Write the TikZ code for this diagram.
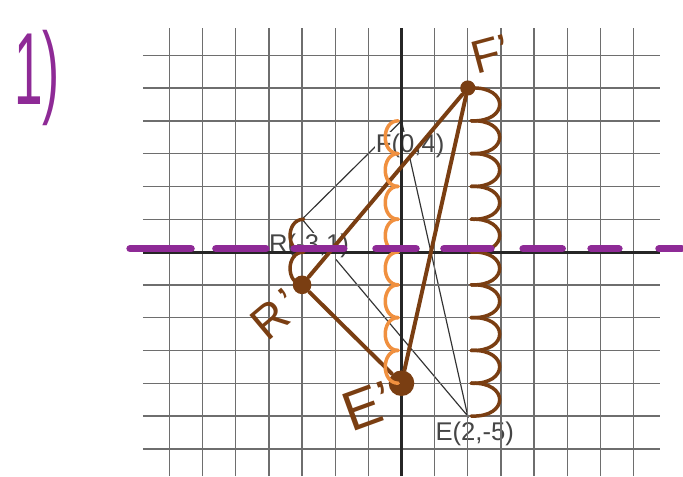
\documentclass[tikz,border=0pt]{standalone}
\usepackage{fontspec}
\newfontfamily\printfont{Liberation Sans}
\usepackage{xcolor}
\definecolor{gridgray}{HTML}{6E6E6E}
\definecolor{printgray}{HTML}{454545}
\definecolor{inkbrown}{HTML}{7A3E12}
\definecolor{inkorange}{HTML}{F0903F}
\definecolor{inkpurple}{HTML}{8E2A96}
\usepackage{tikz}
\usetikzlibrary{positioning}

\begin{document}
\begin{tikzpicture}[
  x=0.5cm, y=0.4949cm,
  gridline/.style={gridgray, line width=0.6pt},
  axisline/.style={black!85, line width=1.3pt},
  thinside/.style={black!80, line width=0.5pt},
  printlabel/.style={
    font=\printfont\fontsize{11}{13}\selectfont, text=printgray,
    fill=white, inner sep=0.5pt
  },
  handlabel/.style={
    text=inkbrown, font=\printfont\fontsize{20}{22}\selectfont, inner sep=0pt
  },
  vertex/.style={circle, fill=inkbrown, inner sep=0pt},
  side/.style={inkbrown, line width=1.7pt, line cap=round},
  hop/.style={line width=1.5pt, line cap=round},
  mirror/.style={inkpurple, line width=3.2pt, line cap=round}
]
\useasboundingbox (-12.115,-6.83) rectangle (8.494,7.683);

% Original triangle FRE
\coordinate (F) at (0,4);
\coordinate (R) at (-3,1);
\coordinate (E) at (2,-5);
\draw[thinside] (F) -- (R) -- (E) -- cycle;

\node[printlabel, below=4.8pt of F, xshift=3.7pt] (Flab) {F(0,4)};
\node[printlabel, below=5.6pt of R, xshift=3pt] (Rlab) {R(-3,1)};
\node[printlabel, below=2pt of E, xshift=3pt] (Elab) {E(2,-5)};

% Graph paper
\foreach \i in {-7,...,7}
  \draw[gridline] (\i,-6.83) -- (\i,6.83);
\foreach \j in {-6,...,6}
  \draw[gridline] (-7.8,\j) -- (7.8,\j);
\draw[axisline] (0,-6.83) -- (0,6.83);
\draw[axisline] (-7.8,0) -- (7.8,0);

% Image F'R'E'
\node[vertex, minimum size=6.5pt] (Fp) at (2,5) {};
\node[vertex, minimum size=8pt] (Rp) at (-3,-1) {};
\node[vertex, minimum size=11pt] (Ep) at (0,-4) {};
\foreach \a/\b in {Fp/Rp, Rp/Ep, Ep/Fp}
  \draw[side] (\a) -- (\b);

% Counting hops
\foreach \k in {5,...,-4}
  \draw[hop, inkbrown] (2.1,\k) .. controls (3.25,\k+0.05) and (3.25,\k-1.05) .. (2.1,\k-1);
\foreach \k in {4,...,-3}
  \draw[hop, inkorange] (-0.1,\k) .. controls (-0.62,\k) and (-0.62,\k-1) .. (-0.1,\k-1);
\foreach \k in {1,0}
  \draw[hop, inkbrown] (-2.95,\k) .. controls (-3.5,\k) and (-3.5,\k-1) .. (-2.95,\k-1);

% Line of reflection
\foreach \a/\b in {-8.19/-6.35, -5.60/-4.09, -3.24/-1.74, -0.77/0.44,
                   1.28/2.70, 3.67/4.85, 5.72/6.56, 7.77/8.45}
  \draw[mirror] (\a,0.1) -- (\b,0.1);

% Handwritten labels
\node[handlabel, rotate=15] (Fplab) at (2.70,6.04) {F’};
\node[handlabel, rotate=40] (Rplab) at (-3.8,-1.9) {R\kern2pt’};
\node[handlabel, rotate=20, font=\printfont\fontsize{24}{26}\selectfont] (Eplab) at (-1.0,-4.7) {E’};
\node[text=inkpurple, font=\printfont\fontsize{44}{48}\selectfont, xscale=0.5,
  inner sep=0pt, anchor=base] (num) at (-11.0,4.51) {1)};
\end{tikzpicture}
\end{document}
